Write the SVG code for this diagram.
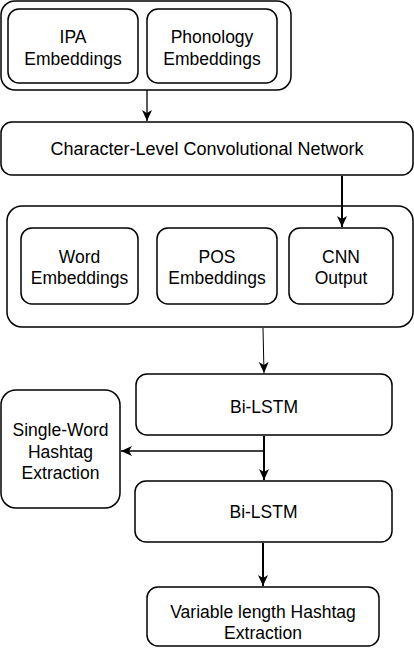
<svg xmlns="http://www.w3.org/2000/svg" width="414" height="648" viewBox="0 0 414 648">
<defs>
<marker id="ah" markerUnits="userSpaceOnUse" markerWidth="12" markerHeight="12" viewBox="0 0 12 12" refX="11" refY="6" orient="auto">
<path d="M0,1 L11,6 L0,11 L3,6 Z" fill="#000"/>
</marker>
</defs>
<style>
.box{fill:#fff;stroke:#000;stroke-width:1.5}
text{font-family:"Liberation Sans",Arial,sans-serif;font-size:17.5px;text-anchor:middle;fill:#000}
.c{fill:none;stroke:#000}
</style>
<rect width="414" height="648" fill="#fff"/>
<g id="top-group">
<rect class="box" x="1" y="1" width="290" height="89" rx="14"/>
</g>
<g id="ipa">
<rect class="box" x="8" y="9" width="130" height="74" rx="11"/>
<text x="73" y="43">IPA</text>
<text x="73" y="65">Embeddings</text>
</g>
<g id="phonology">
<rect class="box" x="147" y="9" width="130" height="74" rx="11"/>
<text x="212" y="43">Phonology</text>
<text x="212" y="65">Embeddings</text>
</g>
<g id="clcn">
<rect class="box" x="1" y="122" width="412" height="53" rx="11"/>
<text x="207" y="155" textLength="313" lengthAdjust="spacingAndGlyphs">Character-Level Convolutional Network</text>
</g>
<g id="mid-group">
<rect class="box" x="7" y="206" width="406" height="121" rx="15"/>
</g>
<g id="word">
<rect class="box" x="21" y="228" width="117" height="76" rx="11"/>
<text x="79.5" y="263">Word</text>
<text x="79.5" y="284">Embeddings</text>
</g>
<g id="pos">
<rect class="box" x="157" y="228" width="120" height="76" rx="11"/>
<text x="217" y="263">POS</text>
<text x="217" y="284">Embeddings</text>
</g>
<g id="cnn">
<rect class="box" x="289" y="228" width="104" height="76" rx="11"/>
<text x="341" y="263">CNN</text>
<text x="341" y="284">Output</text>
</g>
<g id="bilstm1">
<rect class="box" x="136" y="374" width="256" height="61" rx="11"/>
<text x="264" y="413">Bi-LSTM</text>
</g>
<g id="single">
<rect class="box" x="1" y="390" width="119" height="118" rx="15"/>
<text x="60.5" y="436">Single-Word</text>
<text x="60.5" y="458">Hashtag</text>
<text x="60.5" y="479">Extraction</text>
</g>
<g id="bilstm2">
<rect class="box" x="135" y="481" width="257" height="61" rx="11"/>
<text x="263.5" y="518">Bi-LSTM</text>
</g>
<g id="variable">
<rect class="box" x="147" y="587" width="232" height="59" rx="11"/>
<text x="263" y="618">Variable length Hashtag</text>
<text x="263" y="639">Extraction</text>
</g>
<g id="connectors">
<line class="c" x1="147" y1="90" x2="147" y2="121" stroke-width="1.3" marker-end="url(#ah)"/>
<line class="c" x1="342" y1="176" x2="342" y2="227" stroke-width="2" marker-end="url(#ah)"/>
<line class="c" x1="263" y1="328" x2="264" y2="373" stroke-width="1" marker-end="url(#ah)"/>
<line class="c" x1="264" y1="436" x2="264" y2="480" stroke-width="2" marker-end="url(#ah)"/>
<line class="c" x1="264" y1="451" x2="121" y2="451" stroke-width="1.3" marker-end="url(#ah)"/>
<line class="c" x1="263" y1="543" x2="263" y2="586" stroke-width="2" marker-end="url(#ah)"/>
</g>
</svg>
